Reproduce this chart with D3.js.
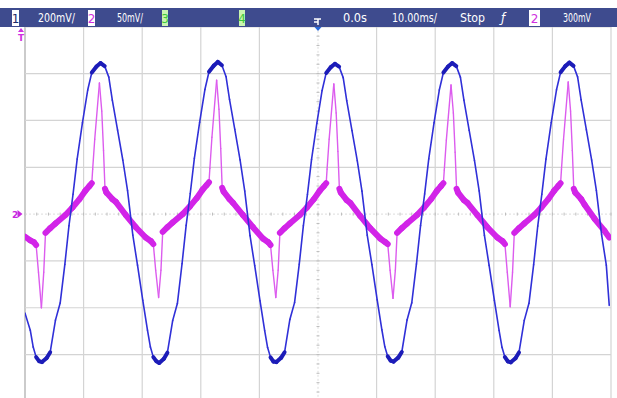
<!DOCTYPE html>
<html>
<head>
<meta charset="utf-8">
<script src="https://cdn.jsdelivr.net/npm/d3@7"></script>
<style>
body { margin: 0; background: #fff; }
svg { display: block; }
</style>
</head>
<body>
<div id="scope"></div>
<script>
const width = 617, height = 398;

// screen divisions (10 ms/div horizontally, 8 divisions vertically)
const timeDivs = [-50, -40, -30, -20, -10, 0, 10, 20, 30, 40, 50];
const ch1Divs = [-0.8, -0.6, -0.4, -0.2, 0, 0.2, 0.4, 0.6, 0.8];

// status bar texts
const barLabels = ["200mV/", "50mV/", "0.0s", "10.00ms/", "Stop", "300mV"];
const channelBoxes = ["1", "2", "3", "4", "2"];

// channel 1 (blue), time in ms, volts
const ch1Time = [
  -50.0, -49.1, -48.6, -48.1, -47.6,
  -47.1, -46.3, -45.7, -44.8, -44.0, -43.2, -42.5, -41.8, -41.1, -40.2, -39.3, -38.6, -37.8, -37.1,
  -36.4, -35.7, -35.1, -34.2, -33.3, -32.5, -31.6, -30.8, -29.9, -29.1, -28.6, -28.1, -27.6,
  -27.1, -26.3, -25.7, -24.8, -24.0, -23.2, -22.5, -21.8, -21.1, -20.2, -19.3, -18.6, -17.8, -17.1,
  -16.4, -15.7, -15.1, -14.2, -13.3, -12.5, -11.6, -10.8, -9.9, -9.1, -8.6, -8.1, -7.6,
  -7.1, -6.3, -5.7, -4.8, -4.0, -3.2, -2.5, -1.8, -1.1, -0.2, 0.7, 1.4, 2.2, 2.9,
  3.6, 4.3, 4.9, 5.8, 6.7, 7.5, 8.4, 9.2, 10.1, 10.9, 11.4, 11.9, 12.4,
  12.9, 13.7, 14.3, 15.2, 16.0, 16.8, 17.5, 18.2, 18.9, 19.8, 20.7, 21.4, 22.2, 22.9,
  23.6, 24.3, 24.9, 25.8, 26.7, 27.5, 28.4, 29.2, 30.1, 30.9, 31.4, 31.9, 32.4,
  32.9, 33.7, 34.3, 35.2, 36.0, 36.8, 37.5, 38.2, 38.9, 39.8, 40.7, 41.4, 42.2, 42.9,
  43.6, 44.3, 44.9, 45.8, 46.7, 47.5, 48.4, 49.2, 49.7
];
const ch1Volts = [
  -0.423, -0.496, -0.568, -0.611, -0.628,
  -0.632, -0.615, -0.590, -0.453, -0.380, -0.215, -0.050, 0.085, 0.235, 0.390, 0.530, 0.605, 0.630, 0.645,
  0.632, 0.585, 0.487, 0.359, 0.230, 0.100, -0.090, -0.218, -0.368, -0.496, -0.568, -0.611, -0.628,
  -0.636, -0.618, -0.592, -0.455, -0.382, -0.212, -0.048, 0.088, 0.238, 0.392, 0.532, 0.608, 0.634, 0.650,
  0.636, 0.588, 0.490, 0.362, 0.232, 0.098, -0.092, -0.220, -0.370, -0.498, -0.570, -0.612, -0.630,
  -0.632, -0.614, -0.590, -0.450, -0.378, -0.214, -0.050, 0.084, 0.234, 0.388, 0.528, 0.603, 0.628, 0.642,
  0.630, 0.583, 0.485, 0.357, 0.228, 0.098, -0.090, -0.216, -0.366, -0.494, -0.566, -0.608, -0.626,
  -0.630, -0.613, -0.589, -0.452, -0.379, -0.213, -0.049, 0.086, 0.236, 0.390, 0.530, 0.605, 0.630, 0.645,
  0.632, 0.585, 0.487, 0.358, 0.229, 0.099, -0.091, -0.219, -0.369, -0.497, -0.569, -0.611, -0.629,
  -0.633, -0.616, -0.591, -0.454, -0.381, -0.216, -0.051, 0.085, 0.235, 0.391, 0.531, 0.606, 0.632, 0.647,
  0.633, 0.586, 0.488, 0.360, 0.231, 0.101, -0.089, -0.218, -0.390
];

// channel 2 (magenta), time in ms, millivolts
const ch2Time = [
  -50.0, -49.1, -48.5, -48.1, -47.7, -47.2, -46.8,
  -46.5, -45.7, -44.8, -43.1, -41.9, -40.7, -39.7, -39.0, -38.6, -38.45, -38.1, -37.3, -36.9,
  -36.6, -36.35, -36.1, -35.1, -34.5, -32.8, -31.1, -29.4, -28.5, -28.1, -27.7, -27.2, -26.8,
  -26.5, -25.7, -24.8, -23.1, -21.9, -20.7, -19.7, -19.0, -18.6, -18.45, -18.1, -17.3, -16.9,
  -16.6, -16.35, -16.1, -15.1, -14.5, -12.8, -11.1, -9.4, -8.5, -8.1, -7.7, -7.2, -6.8,
  -6.5, -5.7, -4.8, -3.1, -1.9, -0.7, 0.3, 1.0, 1.4, 1.55, 1.9, 2.7, 3.1,
  3.4, 3.65, 3.9, 4.9, 5.5, 7.2, 8.9, 10.6, 11.5, 11.9, 12.3, 12.8, 13.2,
  13.5, 14.3, 15.2, 16.9, 18.1, 19.3, 20.3, 21.0, 21.4, 21.55, 21.9, 22.7, 23.1,
  23.4, 23.65, 23.9, 24.9, 25.5, 27.2, 28.9, 30.6, 31.5, 31.9, 32.3, 32.8, 33.2,
  33.5, 34.3, 35.2, 36.9, 38.1, 39.3, 40.3, 41.0, 41.4, 41.55, 41.9, 42.7, 43.1,
  43.4, 43.65, 43.9, 44.9, 45.5, 47.2, 48.9, 49.7
];
const ch2MilliVolts = [
  -24, -28, -30, -33, -62, -100, -62,
  -20, -15, -10, -1, 7, 16, 25, 30, 33, 48, 80, 140, 110,
  68, 27, 23, 16, 13, -1, -14, -25, -29, -32, -60, -89, -60,
  -19, -14, -9, 0, 8, 17, 26, 31, 34, 49, 82, 143, 112,
  70, 28, 24, 16, 12, -1, -14, -26, -30, -33, -60, -89, -60,
  -20, -15, -10, -1, 7, 16, 25, 30, 33, 48, 80, 139, 108,
  67, 27, 23, 15, 12, -2, -15, -26, -30, -32, -60, -90, -60,
  -20, -15, -10, -1, 7, 16, 25, 30, 33, 47, 79, 138, 108,
  66, 27, 23, 15, 12, -1, -14, -25, -29, -32, -62, -99, -62,
  -20, -15, -10, -1, 7, 16, 25, 30, 33, 48, 80, 141, 110,
  68, 27, 23, 16, 10, -5, -18, -25
];

const grid = {left: 25, right: 611, top: 26.8, bottom: 401.4};

let x = d3.scaleLinear().domain([-50, 50]).range([grid.left, grid.right]);
let y1 = d3.scaleLinear().domain([-0.8, 0.8]).range([grid.bottom, grid.top]);
let y2 = d3.scaleLinear().domain([-200, 200]).range([grid.bottom, grid.top]);

let svg = d3.select("#scope")
    .append("svg")
    .attr("width", width)
    .attr("height", height)
    .style("font-family", "DejaVu Sans");

svg.append("rect").attr("width", width).attr("height", height).attr("fill", "#fff");

svg.append("clipPath").attr("id", "screen")
  .append("rect")
    .attr("x", grid.left).attr("y", grid.top)
    .attr("width", grid.right - grid.left).attr("height", height - grid.top);

// grid
let gridG = svg.append("g");
gridG.selectAll("line.v")
  .data(timeDivs.filter(d => d !== 0))
  .enter().append("line")
    .attr("x1", d => x(d)).attr("x2", d => x(d))
    .attr("y1", grid.top).attr("y2", height)
    .attr("stroke", d => d === -50 ? "#a8a8a8" : "#d4d4d4")
    .attr("stroke-width", 1.2);
gridG.selectAll("line.h")
  .data(ch1Divs.filter(d => d !== 0))
  .enter().append("line")
    .attr("x1", grid.left).attr("x2", grid.right)
    .attr("y1", d => y1(d)).attr("y2", d => y1(d))
    .attr("stroke", "#d4d4d4")
    .attr("stroke-width", 1.2);

// center axes, dotted with minor ticks
gridG.append("line")
    .attr("x1", x(0)).attr("x2", x(0)).attr("y1", grid.top).attr("y2", height)
    .attr("stroke", "#dcdcdc").attr("stroke-width", 1).attr("stroke-dasharray", "2,2");
gridG.append("line")
    .attr("x1", grid.left).attr("x2", grid.right).attr("y1", y1(0)).attr("y2", y1(0))
    .attr("stroke", "#dcdcdc").attr("stroke-width", 1).attr("stroke-dasharray", "2,2");
let minorT = d3.range(-50, 50.1, 2);
let minorV = d3.range(-0.8, 0.801, 0.04);
gridG.selectAll("line.mt")
  .data(minorT)
  .enter().append("line")
    .attr("x1", d => x(d)).attr("x2", d => x(d))
    .attr("y1", y1(0) - 1.5).attr("y2", y1(0) + 1.5)
    .attr("stroke", "#bdbdbd");
gridG.selectAll("line.mv")
  .data(minorV)
  .enter().append("line")
    .attr("x1", x(0) - 1.5).attr("x2", x(0) + 1.5)
    .attr("y1", d => y1(d)).attr("y2", d => y1(d))
    .attr("stroke", "#bdbdbd");

// traces: slow parts of the sweep are brighter/thicker
function drawTrace(times, values, yScale, style) {
  let pts = times.map((t, i) => [x(t), yScale(values[i])]);
  let segs = d3.pairs(pts).map(p => {
    let dx = Math.abs(p[1][0] - p[0][0]) || 0.01;
    let slope = Math.abs(p[1][1] - p[0][1]) / dx;
    return {a: p[0], b: p[1], flat: slope < style.limit};
  });
  let g = svg.append("g").attr("clip-path", "url(#screen)");
  g.selectAll("line.thin")
    .data(segs.filter(s => !s.flat))
    .enter().append("line")
      .attr("x1", s => s.a[0]).attr("y1", s => s.a[1])
      .attr("x2", s => s.b[0]).attr("y2", s => s.b[1])
      .attr("stroke", style.thin)
      .attr("stroke-width", style.thinW)
      .attr("stroke-linecap", "round");
  g.selectAll("line.thick")
    .data(segs.filter(s => s.flat))
    .enter().append("line")
      .attr("x1", s => s.a[0]).attr("y1", s => s.a[1])
      .attr("x2", s => s.b[0]).attr("y2", s => s.b[1])
      .attr("stroke", style.thick)
      .attr("stroke-width", style.thickW)
      .attr("stroke-linecap", "round");
}

drawTrace(ch2Time, ch2MilliVolts, y2, {thin: "#dc5cee", thick: "#d224e8", thinW: 1.4, thickW: 6, limit: 4});
drawTrace(ch1Time, ch1Volts, y1, {thin: "#3030d8", thick: "#1c1cb8", thinW: 1.6, thickW: 4, limit: 1.8});

// status bar
svg.append("rect")
    .attr("x", 0).attr("y", 8).attr("width", width).attr("height", 19)
    .attr("fill", "#3e4b8e");

let boxX = [12, 88, 162, 239, 529];
let boxW = [7, 7, 6, 6, 11];
let boxFill = ["#ffffff", "#ffffff", "#c8f5b0", "#c8f5b0", "#ffffff"];
let boxInk = ["#1c2a6a", "#d030e0", "#3cc83c", "#3cc83c", "#d030e0"];
channelBoxes.forEach((c, i) => {
  svg.append("rect")
      .attr("x", boxX[i]).attr("y", 10).attr("width", boxW[i]).attr("height", 16)
      .attr("fill", boxFill[i]);
  svg.append("text")
      .text(c)
      .attr("x", boxX[i] + boxW[i] / 2).attr("y", 22.5)
      .attr("text-anchor", "middle")
      .attr("fill", boxInk[i])
      .style("font-size", "12px");
});

let labelX = [38, 117, 343, 392, 460, 563];
let labelW = [37, 26, 24, 45, 25, 28];
barLabels.forEach((t, i) => {
  svg.append("text")
      .text(t)
      .attr("x", labelX[i]).attr("y", 22)
      .attr("textLength", labelW[i])
      .attr("lengthAdjust", "spacingAndGlyphs")
      .attr("fill", "#fff")
      .style("font-size", "12px");
});
svg.append("text")
    .text("ƒ")
    .attr("x", 503).attr("y", 22)
    .attr("text-anchor", "middle")
    .attr("fill", "#fff")
    .style("font-size", "12px")
    .style("font-style", "italic");

// trigger position marker
svg.append("path")
    .attr("d", `M${x(0) - 4},19 H${x(0) + 3} M${x(0) - 4},22 H${x(0)} M${x(0)},19 V25`)
    .attr("stroke", "#fff").attr("stroke-width", 1.5).attr("fill", "none");
svg.append("path")
    .attr("d", `M${x(0) - 3.5},27 L${x(0) + 3.5},27 L${x(0)},31 Z`)
    .attr("fill", "#2a6ad8");

// trigger level (off screen above) and ch2 ground markers
svg.append("path")
    .attr("d", "M21,28 L18,32 L24,32 Z")
    .attr("fill", "#d030e0");
svg.append("text")
    .text("T")
    .attr("x", 21).attr("y", 41)
    .attr("text-anchor", "middle")
    .attr("fill", "#d030e0")
    .style("font-size", "9px")
    .style("font-weight", "bold");
svg.append("text")
    .text("2")
    .attr("x", 12).attr("y", y2(0) + 3.5)
    .attr("fill", "#c828e0")
    .style("font-size", "9px")
    .style("font-weight", "bold");
svg.append("path")
    .attr("d", `M17.5,${y2(0) - 4} L22.5,${y2(0)} L17.5,${y2(0) + 4} Z`)
    .attr("fill", "#c828e0");
</script>
</body>
</html>
